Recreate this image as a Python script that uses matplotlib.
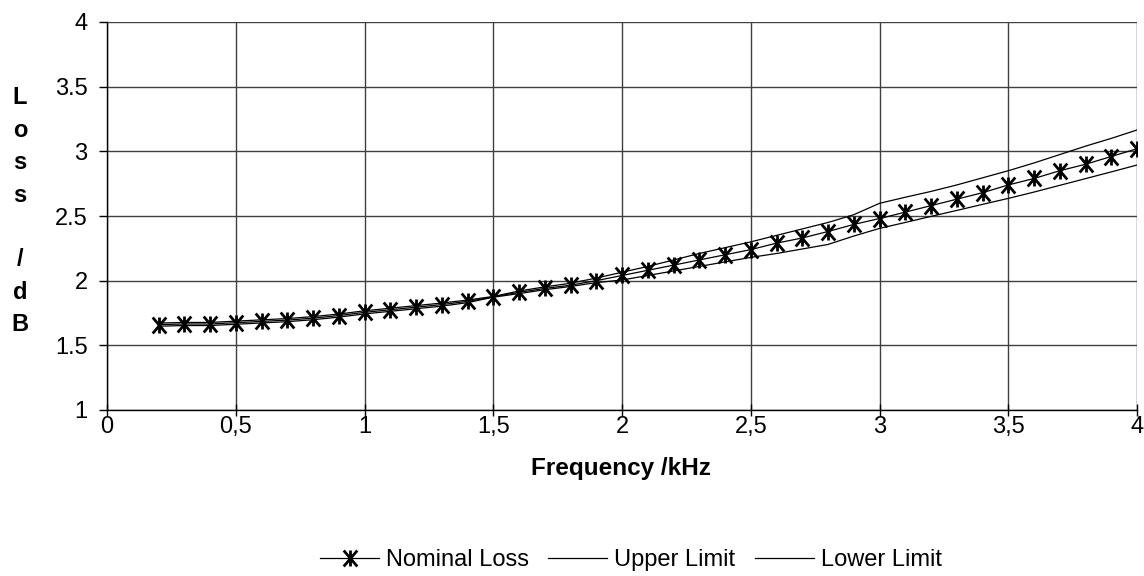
import matplotlib
matplotlib.use("Agg")
import matplotlib.pyplot as plt
from matplotlib.path import Path
from matplotlib.lines import Line2D

plt.rcParams['font.family'] = ['Liberation Sans', 'DejaVu Sans']

freq = [0.2, 0.3, 0.4, 0.5, 0.6, 0.7, 0.8, 0.9, 1.0, 1.1, 1.2, 1.3, 1.4, 1.5,
        1.6, 1.7, 1.8, 1.9, 2.0, 2.1, 2.2, 2.3, 2.4, 2.5, 2.6, 2.7, 2.8, 2.9,
        3.0, 3.1, 3.2, 3.3, 3.4, 3.5, 3.6, 3.7, 3.8, 3.9, 4.0]
nominal = [1.66, 1.665, 1.665, 1.675, 1.685, 1.695, 1.71, 1.73, 1.755, 1.775,
           1.795, 1.815, 1.84, 1.875, 1.91, 1.94, 1.965, 2.0, 2.04, 2.08,
           2.12, 2.16, 2.20, 2.24, 2.29, 2.33, 2.38, 2.435, 2.48, 2.53,
           2.58, 2.63, 2.68, 2.74, 2.79, 2.85, 2.90, 2.96, 3.02]
upper = [1.672, 1.677, 1.677, 1.687, 1.697, 1.707, 1.722, 1.742, 1.767, 1.787,
         1.807, 1.827, 1.85, 1.878, 1.92, 1.952, 1.98, 2.02, 2.065, 2.11,
         2.16, 2.21, 2.255, 2.30, 2.35, 2.40, 2.45, 2.51, 2.598, 2.645,
         2.69, 2.74, 2.795, 2.85, 2.91, 2.975, 3.04, 3.10, 3.165]
lower = [1.648, 1.653, 1.653, 1.663, 1.673, 1.683, 1.698, 1.718, 1.743, 1.763,
         1.783, 1.803, 1.83, 1.872, 1.90, 1.93, 1.955, 1.985, 2.005, 2.04,
         2.075, 2.11, 2.145, 2.18, 2.21, 2.245, 2.28, 2.345, 2.404, 2.45,
         2.497, 2.543, 2.59, 2.636, 2.685, 2.737, 2.789, 2.841, 2.894]

xticks = [0, 0.5, 1, 1.5, 2, 2.5, 3, 3.5, 4]
xticklabels = ['0', '0,5', '1', '1,5', '2', '2,5', '3', '3,5', '4']
yticks = [1, 1.5, 2, 2.5, 3, 3.5, 4]
yticklabels = ['1', '1.5', '2', '2.5', '3', '3.5', '4']

# asterisk marker: vertical bar plus an X
star = Path([(0, -1), (0, 1), (-0.85, -1), (0.85, 1), (-0.85, 1), (0.85, -1)],
            [Path.MOVETO, Path.LINETO, Path.MOVETO, Path.LINETO, Path.MOVETO, Path.LINETO])

FS = 17
fig = plt.figure(figsize=(11.44, 5.76), dpi=100)
W, H = 1144, 576
ax = fig.add_axes([107 / W, 1 - 410 / H, (1137 - 107) / W, (410 - 22) / H])

ax.plot(freq, upper, color='black', lw=0.9, label='Upper Limit', zorder=3)
ax.plot(freq, lower, color='black', lw=0.9, label='Lower Limit', zorder=3)
ax.plot(freq, nominal, color='black', lw=0.9, marker=star, markersize=11.5,
        markeredgewidth=2.0, label='Nominal Loss', zorder=4)

ax.set_xlim(0, 4)
ax.set_ylim(1, 4)
ax.set_xticks(xticks)
ax.set_xticklabels(xticklabels, fontsize=FS)
ax.set_yticks(yticks)
ax.set_yticklabels(yticklabels, fontsize=FS)
ax.tick_params(axis='x', direction='inout', length=8, width=1, color='black', pad=0)
ax.tick_params(axis='y', direction='out', length=6, width=1, color='black', pad=8)
ax.grid(True, color='#404040', lw=1)
ax.set_axisbelow(True)
for s in ['top', 'right']:
    ax.spines[s].set_visible(False)
for s in ['left', 'bottom']:
    ax.spines[s].set_color('black')
    ax.spines[s].set_linewidth(1)

fig.text(621 / W, 1 - 468 / H, 'Frequency /kHz', ha='center', va='center',
         fontsize=17.5, fontweight='bold')

ylabel_chars = ['L', 'o', 's', 's', '', '/', 'd', 'B']
for i, ch in enumerate(ylabel_chars):
    if ch:
        fig.text(20 / W, 1 - (98 + 32.4 * i) / H, ch, ha='center', va='center',
                 fontsize=FS, fontweight='bold')

handles = [
    Line2D([], [], color='black', lw=0.9, marker=star, markersize=11.5, markeredgewidth=2.0),
    Line2D([], [], color='black', lw=0.9),
    Line2D([], [], color='black', lw=0.9),
]
fig.legend(handles, ['Nominal Loss', 'Upper Limit', 'Lower Limit'],
           loc='center', bbox_to_anchor=(631 / W, 1 - 560 / H), ncol=3,
           frameon=False, fontsize=FS, handlelength=2.5, columnspacing=0.8,
           handletextpad=0.3)

fig.savefig('out.png', dpi=100)
